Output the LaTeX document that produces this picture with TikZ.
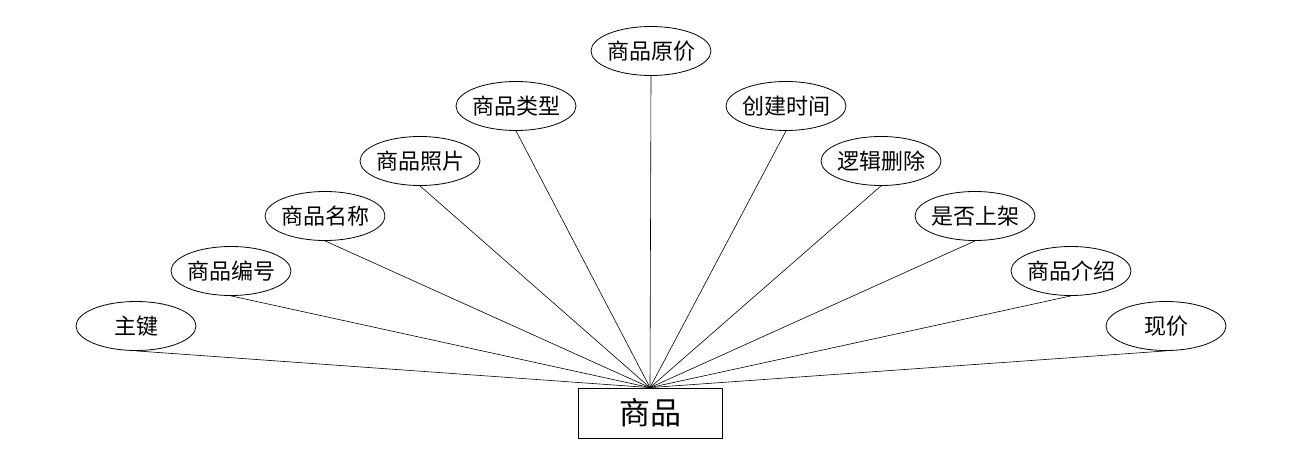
\documentclass[tikz,border=0pt]{standalone}
\usepackage{fontspec}
\setmainfont{Noto Sans CJK SC}
\usetikzlibrary{shapes.geometric}
\newcommand{\attrtext}[1]{\makebox[80pt]{#1}}
\begin{document}
\begin{tikzpicture}[x=1pt,y=-1pt,
  attr/.style={draw, ellipse, line width=0.8pt, minimum width=120pt, minimum height=49pt, inner sep=0pt, font=\fontsize{22}{22}\selectfont},
  ent/.style={draw, rectangle, line width=0.8pt, minimum width=144pt, minimum height=50pt, inner sep=0pt, font=\fontsize{31}{31}\selectfont},
  conn/.style={draw, line width=0.6pt}]
\useasboundingbox (0,0) rectangle (1300,468);
\node[ent] (r) at (650,413) {商品};
\node[attr] (a1) at (136,326) {\attrtext{主键}};
\node[attr] (a2) at (231,271) {\attrtext{商品编号}};
\node[attr] (a3) at (325,216) {\attrtext{商品名称}};
\node[attr] (a4) at (420,161) {\attrtext{商品照片}};
\node[attr] (a5) at (516,106) {\attrtext{商品类型}};
\node[attr] (a6) at (651,51) {\attrtext{商品原价}};
\node[attr] (a7) at (786,106) {\attrtext{创建时间}};
\node[attr] (a8) at (881,161) {\attrtext{逻辑删除}};
\node[attr] (a9) at (975,216) {\attrtext{是否上架}};
\node[attr] (a10) at (1071,271) {\attrtext{商品介绍}};
\node[attr] (a11) at (1166,326) {\attrtext{现价}};
\foreach \i in {1,...,11} {\draw[conn] (a\i.south) -- (r.north);}
\end{tikzpicture}
\end{document}
